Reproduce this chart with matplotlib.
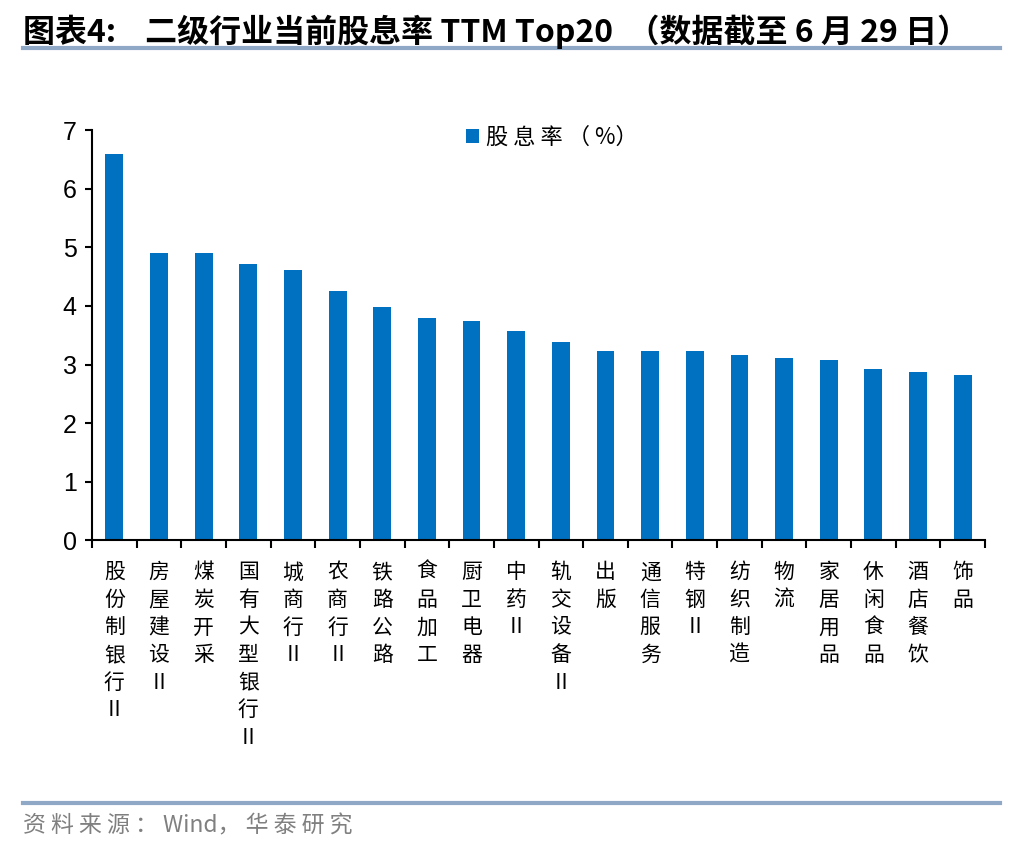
import numpy as np
import matplotlib.pyplot as plt
from matplotlib.lines import Line2D

plt.rcParams['font.family'] = ['Noto Sans CJK SC', 'DejaVu Sans']

# data
industries = ['股份制银行Ⅱ', '房屋建设Ⅱ', '煤炭开采', '国有大型银行Ⅱ', '城商行Ⅱ',
              '农商行Ⅱ', '铁路公路', '食品加工', '厨卫电器', '中药Ⅱ',
              '轨交设备Ⅱ', '出版', '通信服务', '特钢Ⅱ', '纺织制造',
              '物流', '家居用品', '休闲食品', '酒店餐饮', '饰品']
dividend_yield = [6.60, 4.91, 4.91, 4.71, 4.61, 4.25, 3.99, 3.79, 3.74, 3.58,
                  3.38, 3.23, 3.23, 3.23, 3.17, 3.12, 3.07, 2.92, 2.87, 2.82]

BAR_COLOR = '#0070C0'
LINE_COLOR = '#8FA8C6'

fig = plt.figure(figsize=(10.36, 8.52), dpi=100)
ax = fig.add_axes([0.0888, 0.366, 0.862, 0.481])

x = np.arange(len(industries))
ax.bar(x, dividend_yield, width=0.4, color=BAR_COLOR, label='股 息 率 （ %）')

ax.set_xlim(-0.5, len(industries) - 0.5)
ax.set_ylim(0, 7)
ax.set_yticks(range(0, 8))
ax.tick_params(axis='y', labelsize=18, direction='out', length=5, width=1.5, pad=6)
for lbl in ax.get_yticklabels():
    lbl.set_family(['Liberation Sans', 'DejaVu Sans'])

# category boundaries as x ticks
ax.set_xticks(np.arange(-0.5, len(industries), 1.0))
ax.set_xticklabels([])
ax.tick_params(axis='x', direction='out', length=6, width=1.5)

# vertical (stacked) category labels
for i, name in enumerate(industries):
    ax.text(i, -0.36, '\n'.join(name), ha='center', va='top', fontsize=15,
            linespacing=1.33, transform=ax.transData)

for side in ['top', 'right']:
    ax.spines[side].set_visible(False)
ax.spines['left'].set_linewidth(1.5)
ax.spines['bottom'].set_linewidth(1.5)

ax.legend(loc='upper center', bbox_to_anchor=(0.515, 1.06), frameon=False,
          fontsize=16, handlelength=0.6, handleheight=0.6, handletextpad=0.3)

# title and header rule
fig.text(0.022, 0.963, '图表4:    二级行业当前股息率 TTM Top20  （数据截至 6 月 29 日）',
         fontsize=23, fontweight='bold', ha='left', va='center')
fig.add_artist(Line2D([0.022, 0.965], [0.944, 0.944], color=LINE_COLOR, lw=3))

# footer
fig.add_artist(Line2D([0.022, 0.965], [0.057, 0.057], color=LINE_COLOR, lw=3))
fig.text(0.022, 0.031, '资 料 来 源 ： Wind， 华 泰 研 究', fontsize=16.5, color='#808080',
         ha='left', va='center')

fig.savefig('out.png', dpi=100)
